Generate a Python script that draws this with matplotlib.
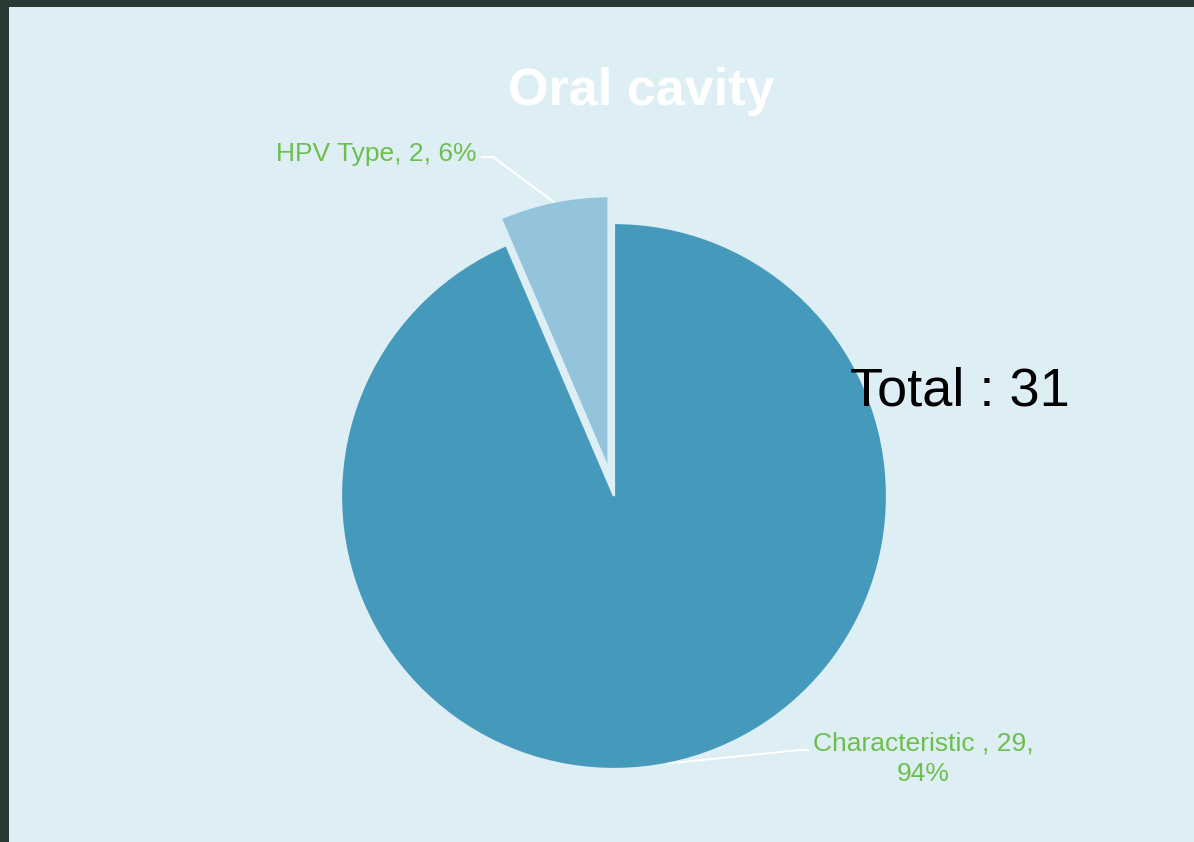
import numpy as np
import matplotlib
matplotlib.use("Agg")
import matplotlib.pyplot as plt
from matplotlib.patches import Rectangle

plt.rcParams['font.family'] = ['Liberation Sans', 'DejaVu Sans']

categories = ["Characteristic ", "HPV Type"]
values = [29, 2]
colors = ["#4599ba", "#93c4dc"]
explode = [0, 0.1]
title = "Oral cavity"

BG = "#ddeef4"
BORDER = "#283a33"
LABEL_C = "#6cbf4c"

W, H = 1194, 842
fig = plt.figure(figsize=(W / 100, H / 100), dpi=100)
fig.patch.set_facecolor(BORDER)
ax = fig.add_axes([0, 0, 1, 1])
ax.set_axis_off()
ax.add_patch(Rectangle((9, 0), W - 9, H - 7, facecolor=BG, edgecolor="none", zorder=0))

R = 273
C = (614, 346)
wedges, _ = ax.pie(values, colors=colors, explode=[e * R for e in explode], startangle=90,
                   counterclock=False, radius=R, center=C,
                   wedgeprops=dict(edgecolor=BG, linewidth=1.6))
ax.set_xlim(0, W)
ax.set_ylim(0, H)
ax.set_aspect('equal')

total = sum(values)

def anchor(w):
    a = np.deg2rad((w.theta1 + w.theta2) / 2)
    cx, cy = w.center
    return cx + w.r * np.cos(a), cy + w.r * np.sin(a)

# HPV label
ax0, ay0 = anchor(wedges[1])
ax.plot([ax0, 493, 482], [ay0, 685, 685], color="white", lw=1.4, zorder=3)
pct = round(values[1] / total * 100)
ax.text(477, 688, f"{categories[1]}, {values[1]}, {pct}%", ha="right", va="center",
        color=LABEL_C, fontsize=19)

# Characteristic label
bx0, by0 = anchor(wedges[0])
ax.plot([bx0, 800, 808], [by0, 92, 92], color="white", lw=1.4, zorder=3)
pct = round(values[0] / total * 100)
ax.text(923, 83, f"{categories[0]}, {values[0]},\n{pct}%", ha="center", va="center",
        color=LABEL_C, fontsize=19, linespacing=1.32)

ax.text(641, 750, title, ha="center", va="center", color="white",
        fontsize=37.5, fontweight="bold")
ax.text(850, 450, f"Total : {total}", ha="left", va="center", color="black", fontsize=39)

fig.savefig("out.png", dpi=100, facecolor=fig.get_facecolor())
